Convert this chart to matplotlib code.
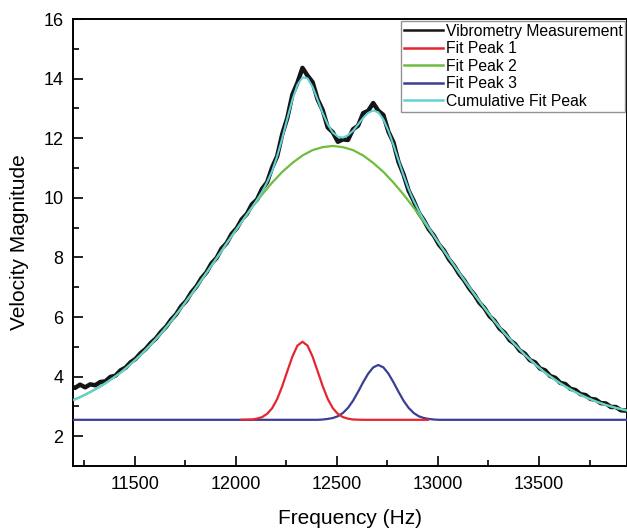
"""
Vibrometry measurement with three fitted peaks and the cumulative fit.
"""

import numpy as np
import matplotlib
matplotlib.use('Agg')
import matplotlib.pyplot as plt
from matplotlib.ticker import MultipleLocator

plt.rcParams['font.family'] = ['Liberation Sans', 'DejaVu Sans']

# measurement and cumulative fit, 25 Hz steps
freq_fine = np.arange(11180, 13931, 25)
measurement = [
    3.70, 3.62, 3.73, 3.64, 3.74, 3.71, 3.82, 3.84, 3.99, 4.03,
    4.21, 4.30, 4.48, 4.60, 4.79, 4.93, 5.13, 5.28, 5.50, 5.67,
    5.91, 6.09, 6.36, 6.54, 6.82, 7.02, 7.30, 7.50, 7.80, 7.98,
    8.30, 8.48, 8.79, 8.98, 9.28, 9.46, 9.78, 9.94, 10.30, 10.52,
    11.02, 11.40, 12.14, 12.68, 13.46, 13.86, 14.36, 14.10, 13.88, 13.30,
    12.94, 12.36, 12.20, 11.88, 11.96, 11.94, 12.30, 12.42, 12.84, 12.92,
    13.18, 12.92, 12.78, 12.22, 11.86, 11.20, 10.78, 10.24, 9.90, 9.50,
    9.25, 8.94, 8.73, 8.43, 8.23, 7.93, 7.72, 7.44, 7.23, 6.96,
    6.75, 6.48, 6.30, 6.03, 5.87, 5.61, 5.47, 5.22, 5.10, 4.87,
    4.77, 4.55, 4.48, 4.27, 4.21, 4.02, 3.96, 3.79, 3.75, 3.59,
    3.55, 3.41, 3.38, 3.25, 3.23, 3.11, 3.10, 2.98, 2.98, 2.87,
    2.86,
]
cumulative = [
    3.17, 3.24, 3.31, 3.39, 3.48, 3.57, 3.67, 3.77, 3.89, 4.01,
    4.13, 4.27, 4.42, 4.57, 4.73, 4.90, 5.08, 5.26, 5.45, 5.65,
    5.86, 6.08, 6.30, 6.53, 6.76, 7.00, 7.24, 7.48, 7.73, 7.97,
    8.22, 8.47, 8.72, 8.96, 9.20, 9.44, 9.68, 9.93, 10.20, 10.52,
    10.90, 11.40, 12.00, 12.66, 13.29, 13.79, 14.04, 14.01, 13.72, 13.29,
    12.84, 12.46, 12.19, 12.05, 12.02, 12.10, 12.25, 12.46, 12.68, 12.85,
    12.93, 12.87, 12.63, 12.25, 11.77, 11.26, 10.75, 10.29, 9.90, 9.56,
    9.26, 8.99, 8.73, 8.47, 8.22, 7.97, 7.73, 7.48, 7.24, 7.00,
    6.76, 6.53, 6.30, 6.08, 5.86, 5.65, 5.45, 5.26, 5.08, 4.90,
    4.73, 4.57, 4.42, 4.27, 4.13, 4.01, 3.89, 3.77, 3.67, 3.57,
    3.48, 3.39, 3.31, 3.24, 3.17, 3.11, 3.05, 3.00, 2.95, 2.91,
    2.87,
]

# fit peak 2 (broad), 50 Hz steps
freq_p2 = np.arange(11180, 13931, 50)
peak2 = [
    3.17, 3.31, 3.48, 3.67, 3.89, 4.13, 4.42, 4.73, 5.08, 5.45,
    5.86, 6.30, 6.76, 7.24, 7.73, 8.22, 8.72, 9.20, 9.67, 10.11,
    10.51, 10.87, 11.17, 11.42, 11.60, 11.70, 11.74, 11.70, 11.60, 11.42,
    11.17, 10.87, 10.51, 10.11, 9.67, 9.20, 8.72, 8.22, 7.73, 7.24,
    6.76, 6.30, 5.86, 5.45, 5.08, 4.73, 4.42, 4.13, 3.89, 3.67,
    3.48, 3.31, 3.17, 3.05, 2.95, 2.87,
]

# fit peak 1
freq_p1 = [12030, 12080, 12105, 12130, 12155, 12180, 12205, 12230, 12255,
           12280, 12305, 12330, 12355, 12380, 12405, 12430, 12455, 12480,
           12505, 12530, 12555, 12580, 12630, 12950]
peak1 = [2.55, 2.56, 2.59, 2.64, 2.75, 2.94, 3.25, 3.68, 4.18,
         4.67, 5.04, 5.17, 5.04, 4.67, 4.18, 3.68, 3.25, 2.94,
         2.75, 2.64, 2.59, 2.56, 2.55, 2.55]

# fit peak 3
freq_p3 = [11180, 12405, 12430, 12455, 12480, 12505, 12530, 12555, 12580,
           12605, 12630, 12655, 12680, 12705, 12730, 12755, 12780, 12805,
           12830, 12855, 12880, 12905, 12930, 12955, 12980, 13005, 13930]
peak3 = [2.55, 2.55, 2.56, 2.58, 2.61, 2.67, 2.78, 2.95, 3.19,
         3.49, 3.81, 4.10, 4.31, 4.39, 4.31, 4.10, 3.81, 3.49,
         3.19, 2.95, 2.78, 2.67, 2.61, 2.58, 2.56, 2.55, 2.55]

fig = plt.figure(figsize=(6.27, 5.31), dpi=100)
ax = fig.add_axes([0.1164, 0.1224, 0.8836, 0.8418])

ax.plot(freq_fine, measurement, color='#151515', lw=3.2,
        label='Vibrometry Measurement', zorder=2)
ax.plot(freq_p3, peak3, color='#3b3f92', lw=1.6, label='Fit Peak 3', zorder=3)
ax.plot(freq_p1, peak1, color='#e4262e', lw=1.6, label='Fit Peak 1', zorder=4)
ax.plot(freq_p2, peak2, color='#6dbd3e', lw=1.6, label='Fit Peak 2', zorder=3)
ax.plot(freq_fine, cumulative, color='#62d2d6', lw=1.5,
        label='Cumulative Fit Peak', zorder=5)

ax.set_xlim(11195, 13935)
ax.set_ylim(1, 16)
ax.xaxis.set_major_locator(MultipleLocator(500))
ax.xaxis.set_minor_locator(MultipleLocator(250))
ax.yaxis.set_major_locator(MultipleLocator(2))
ax.yaxis.set_minor_locator(MultipleLocator(1))
ax.tick_params(which='both', direction='in', top=False, right=False,
               labelsize=13, width=1.2)
ax.tick_params(which='major', length=7, pad=7)
ax.tick_params(which='minor', length=4)
for side in ax.spines.values():
    side.set_linewidth(1.4)

ax.set_xlabel('Frequency (Hz)', fontsize=15, labelpad=12)
ax.set_ylabel('Velocity Magnitude', fontsize=15, labelpad=10)

handles, labels = ax.get_legend_handles_labels()
order = [0, 2, 3, 1, 4]
leg = ax.legend([handles[i] for i in order], [labels[i] for i in order],
                loc='upper right', fontsize=11.3, frameon=True, fancybox=False,
                edgecolor='#777777', borderaxespad=0.1, borderpad=0.2,
                labelspacing=0.16, handlelength=2.5, handletextpad=0.15)
leg.get_frame().set_linewidth(1.0)
for line in leg.get_lines():
    line.set_linewidth(1.8)

fig.savefig('out.png', dpi=100)
